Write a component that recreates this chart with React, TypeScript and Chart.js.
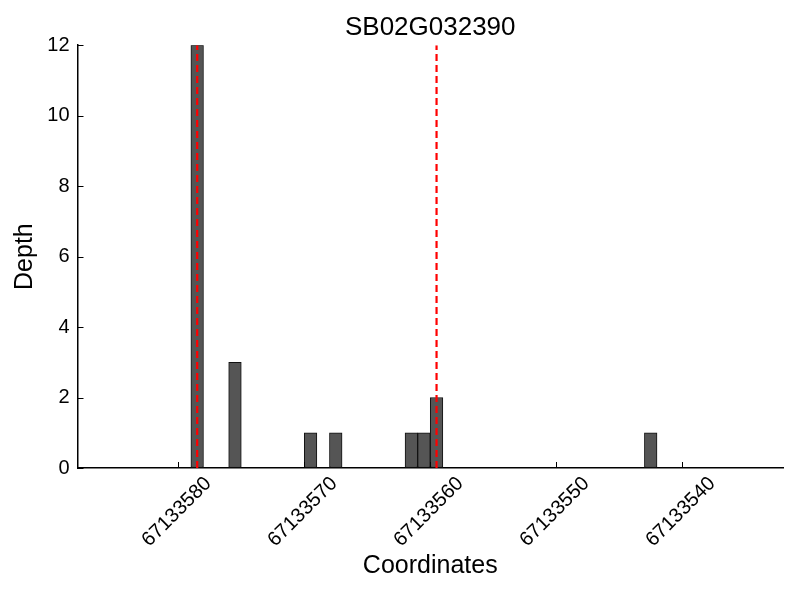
import React, { useEffect, useRef } from "react";
import { Chart, registerables } from "chart.js";

Chart.register(...registerables);

const chartTitle = "SB02G032390";
const xTitle = "Coordinates";
const yTitle = "Depth";
// bar start coordinate (each bar spans one base: [coord, coord + 1])
const coordinates = [67133578, 67133575, 67133569, 67133567, 67133561, 67133560, 67133559, 67133542];
const depths = [12, 3, 1, 1, 1, 1, 2, 1];
// red dashed marker positions
const markers = [67133578.5, 67133559.5];
const xMin = 67133532;
const xMax = 67133588;
const yMin = 0;
const yMax = 12;

const FONT = "'Liberation Sans', Arial, Helvetica, sans-serif";

const inwardTicks = {
  id: "inwardTicks",
  afterDraw(chart: any) {
    const { ctx, chartArea, scales } = chart;
    ctx.save();
    ctx.strokeStyle = "#000";
    ctx.lineWidth = 1;
    scales.x.ticks.forEach((t: any) => {
      const px = Math.round(scales.x.getPixelForValue(t.value)) + 0.5;
      ctx.beginPath();
      ctx.moveTo(px, chartArea.bottom);
      ctx.lineTo(px, chartArea.bottom - 6);
      ctx.stroke();
    });
    scales.y.ticks.forEach((t: any) => {
      const py = Math.round(scales.y.getPixelForValue(t.value)) + 0.5;
      ctx.beginPath();
      ctx.moveTo(chartArea.left, py);
      ctx.lineTo(chartArea.left + 6, py);
      ctx.stroke();
    });
    ctx.restore();
  },
};

export default function App() {
  const canvasRef = useRef<HTMLCanvasElement | null>(null);

  useEffect(() => {
    if (!canvasRef.current) return;
    const barData = coordinates.map((c, i) => ({ x: c + 0.5, y: depths[i] }));
    const markerSets = markers.map((m) => ({
      type: "line" as const,
      data: [
        { x: m, y: yMin },
        { x: m, y: yMax },
      ],
      borderColor: "#ff0000",
      borderWidth: 2.2,
      borderDash: [7, 4],
      pointRadius: 0,
      fill: false,
      order: 0,
    }));
    const chart = new Chart(canvasRef.current, {
      type: "bar",
      data: {
        datasets: [
          {
            type: "bar" as const,
            data: barData,
            backgroundColor: "#555555",
            borderColor: "#111111",
            borderWidth: 1,
            borderSkipped: false,
            barPercentage: 1,
            categoryPercentage: 1,
            order: 1,
          } as any,
          ...markerSets,
        ],
      },
      options: {
        responsive: false,
        animation: false,
        layout: { padding: { left: 0, right: 17, top: 0, bottom: 0 } },
        plugins: {
          legend: { display: false },
          tooltip: { enabled: false },
          title: {
            display: true,
            text: chartTitle,
            color: "#000",
            fullSize: false,
            font: { family: FONT, size: 26, weight: "normal" },
            padding: { top: 12.5, bottom: 1.5 },
          },
        },
        scales: {
          x: {
            type: "linear",
            reverse: true,
            offset: false,
            min: xMin,
            max: xMax,
            afterFit: (s: any) => {
              s.height = 132;
              s.paddingLeft = 0;
              s.paddingRight = 0;
            },
            ticks: {
              stepSize: 10,
              includeBounds: false,
              maxRotation: 45,
              minRotation: 45,
              autoSkip: false,
              labelOffset: 30,
              padding: 4,
              color: "#000",
              font: { family: FONT, size: 20 },
              callback: (v: any) => String(v),
            },
            grid: { display: true, drawOnChartArea: false, drawTicks: false, offset: false },
            border: { display: true, color: "#000", width: 1.5 },
            title: {
              display: true,
              text: xTitle,
              color: "#000",
              font: { family: FONT, size: 25 },
              padding: { top: 0, bottom: 18.5 },
            },
          },
          y: {
            type: "linear",
            min: yMin,
            max: yMax,
            afterFit: (s: any) => {
              s.width = 77.5;
              s.paddingTop = 0;
              s.paddingBottom = 0;
            },
            ticks: {
              stepSize: 2,
              padding: 8,
              color: "#000",
              font: { family: FONT, size: 20 },
            },
            grid: { display: true, drawOnChartArea: false, drawTicks: false },
            border: { display: true, color: "#000", width: 1.5 },
            title: {
              display: true,
              text: yTitle,
              color: "#000",
              font: { family: FONT, size: 25 },
              padding: { top: 10, bottom: 0 },
            },
          },
        },
      } as any,
      plugins: [inwardTicks],
    });
    return () => chart.destroy();
  }, []);

  return (
    <div style={{ position: "fixed", left: 0, top: 0, width: 800, height: 600, background: "#fff" }}>
      <canvas ref={canvasRef} width={800} height={600} style={{ display: "block" }} />
    </div>
  );
}
